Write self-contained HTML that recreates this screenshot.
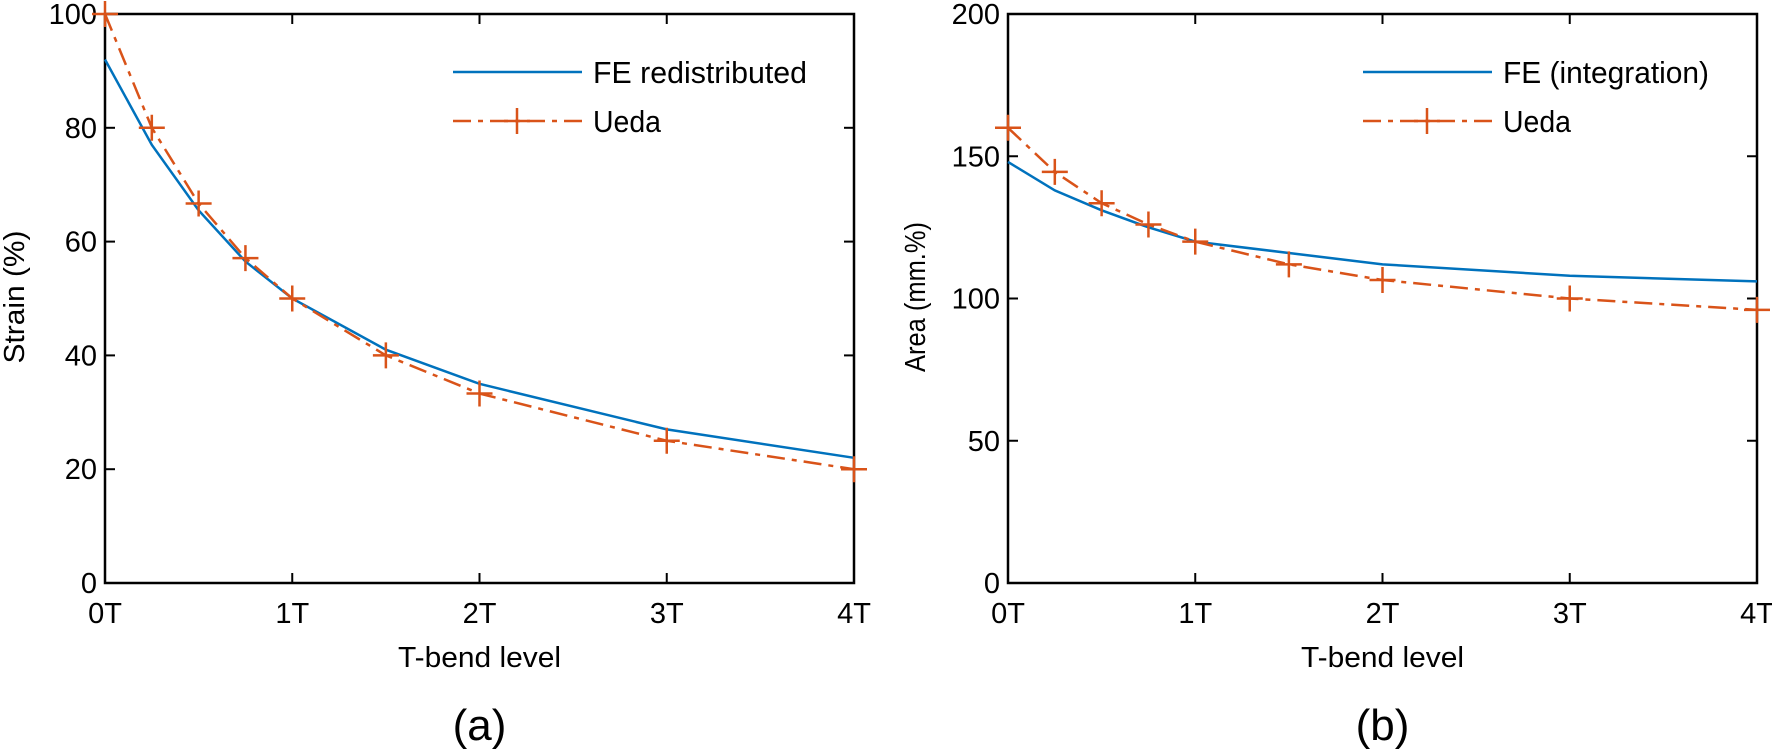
<!DOCTYPE html>
<html><head><meta charset="utf-8"><style>
html,body{margin:0;padding:0;background:#fff;}
svg{display:block;font-family:"Liberation Sans",sans-serif;}
</style></head><body>
<svg id="chart" width="1772" height="750" viewBox="0 0 1772 750" xmlns="http://www.w3.org/2000/svg"></svg>
<script>
const xCats = [0, 0.25, 0.5, 0.75, 1, 1.5, 2, 3, 4];
const xTickVals = [0, 1, 2, 3, 4];
const xTickLabels = ["0T", "1T", "2T", "3T", "4T"];
const strainFE = [92, 77, 65.5, 56.5, 50, 41, 35, 27, 22];
const strainUeda = [100, 80, 66.7, 57.1, 50, 40, 33.3, 25, 20];
const strainTicks = [0, 20, 40, 60, 80, 100];
const areaFE = [148, 138, 131, 125, 120, 116, 112, 108, 106];
const areaUeda = [160, 144.5, 133.5, 126, 120, 112, 106.5, 100, 96];
const areaTicks = [0, 50, 100, 150, 200];

const NS = "http://www.w3.org/2000/svg";
const svg = document.getElementById("chart");
function mk(tag, attrs, parent) {
  const e = document.createElementNS(NS, tag);
  for (const k in attrs) e.setAttribute(k, attrs[k]);
  (parent || svg).appendChild(e);
  return e;
}
const BLUE = "#0072BD", ORANGE = "#D95319";

function panel(cfg) {
  const g = mk("g", {});
  
  
  const L = cfg.x0, R = cfg.x1, T = 14, B = 583;
  const xs = v => L + (v - 0) / 4 * (R - L);
  const ys = v => B - (v - cfg.ymin) / (cfg.ymax - cfg.ymin) * (B - T);
  const box = mk("rect", {x: L, y: T, width: R - L, height: B - T, fill: "none", stroke: "#000", "stroke-width": 2.5}, g);
  
  
  xTickVals.forEach((v, i) => {
    const x = xs(v);
    mk("line", {x1: x, y1: B, x2: x, y2: B - 10, stroke: "#000", "stroke-width": 2}, g);
    mk("line", {x1: x, y1: T, x2: x, y2: T + 10, stroke: "#000", "stroke-width": 2}, g);
    const t = mk("text", {x: x, y: 623, "font-size": 29, "text-anchor": "middle"}, g);
    t.textContent = xTickLabels[i];
    
    
  });
  cfg.ticks.forEach(v => {
    const y = ys(v);
    mk("line", {x1: L, y1: y, x2: L + 10, y2: y, stroke: "#000", "stroke-width": 2}, g);
    mk("line", {x1: R, y1: y, x2: R - 10, y2: y, stroke: "#000", "stroke-width": 2}, g);
    const t = mk("text", {x: L - 8, y: y + 10, "font-size": 29, "text-anchor": "end"}, g);
    t.textContent = String(v);
    
    
  });
  const xt = mk("text", {x: (L + R) / 2, y: 667, "font-size": 29, "text-anchor": "middle", textLength: 163, lengthAdjust: "spacingAndGlyphs"}, g);
  xt.textContent = "T-bend level";
  
  
  const yt = mk("text", {x: 0, y: 0, "font-size": 29, "text-anchor": "middle", textLength: cfg.ylabLen, lengthAdjust: "spacingAndGlyphs", transform: `translate(${cfg.ylabX},297) rotate(-90)`}, g);
  yt.textContent = cfg.ylabel;
  
  
  const pl = mk("text", {x: (L + R) / 2, y: 740, "font-size": 44, "text-anchor": "middle"}, g);
  pl.textContent = cfg.panelLabel;
  
  
  const fePts = xCats.map((v, i) => xs(v) + "," + ys(cfg.fe[i])).join(" ");
  const fe = mk("polyline", {points: fePts, fill: "none", stroke: BLUE, "stroke-width": 2.5}, g);
  
  
  const uPts = xCats.map((v, i) => xs(v) + "," + ys(cfg.ueda[i])).join(" ");
  const ue = mk("polyline", {points: uPts, fill: "none", stroke: ORANGE, "stroke-width": 2.5, "stroke-dasharray": "18 7 5 7"}, g);
  
  
  xCats.forEach((v, i) => {
    const x = xs(v), y = ys(cfg.ueda[i]);
    const p = mk("path", {d: `M${x - 13},${y}H${x + 13}M${x},${y - 13}V${y + 13}`, stroke: ORANGE, "stroke-width": 2.5, fill: "none"}, g);
    
    
  });
  const lx = cfg.legX;
  const lg = mk("g", {}, g);
  
  
  mk("line", {x1: lx, y1: 72, x2: lx + 129, y2: 72, stroke: BLUE, "stroke-width": 2.5}, lg);
  const t1 = mk("text", {x: lx + 140, y: 83, "font-size": 31, textLength: cfg.feLen, lengthAdjust: "spacingAndGlyphs"}, lg);
  t1.textContent = cfg.feName;
  
  
  mk("line", {x1: lx, y1: 121, x2: lx + 129, y2: 121, stroke: ORANGE, "stroke-width": 2.5, "stroke-dasharray": "18 7 5 7"}, lg);
  mk("path", {d: `M${lx + 51},121H${lx + 77}M${lx + 64},108V134`, stroke: ORANGE, "stroke-width": 2.5}, lg);
  const t2 = mk("text", {x: lx + 140, y: 132, "font-size": 31, textLength: 68, lengthAdjust: "spacingAndGlyphs"}, lg);
  t2.textContent = "Ueda";
  
  
}

panel({name: "strain-panel", x0: 105, x1: 854, ymin: 0, ymax: 100, ticks: strainTicks, fe: strainFE, ueda: strainUeda,
  ylabel: "Strain (%)", ylabX: 24, ylabLen: 133, panelLabel: "(a)", legX: 453, feName: "FE redistributed", feLen: 214});
panel({name: "area-panel", x0: 1008, x1: 1757, ymin: 0, ymax: 200, ticks: areaTicks, fe: areaFE, ueda: areaUeda,
  ylabel: "Area (mm.%)", ylabX: 925, ylabLen: 150, panelLabel: "(b)", legX: 1363, feName: "FE (integration)", feLen: 206});
</script>
</body></html>
